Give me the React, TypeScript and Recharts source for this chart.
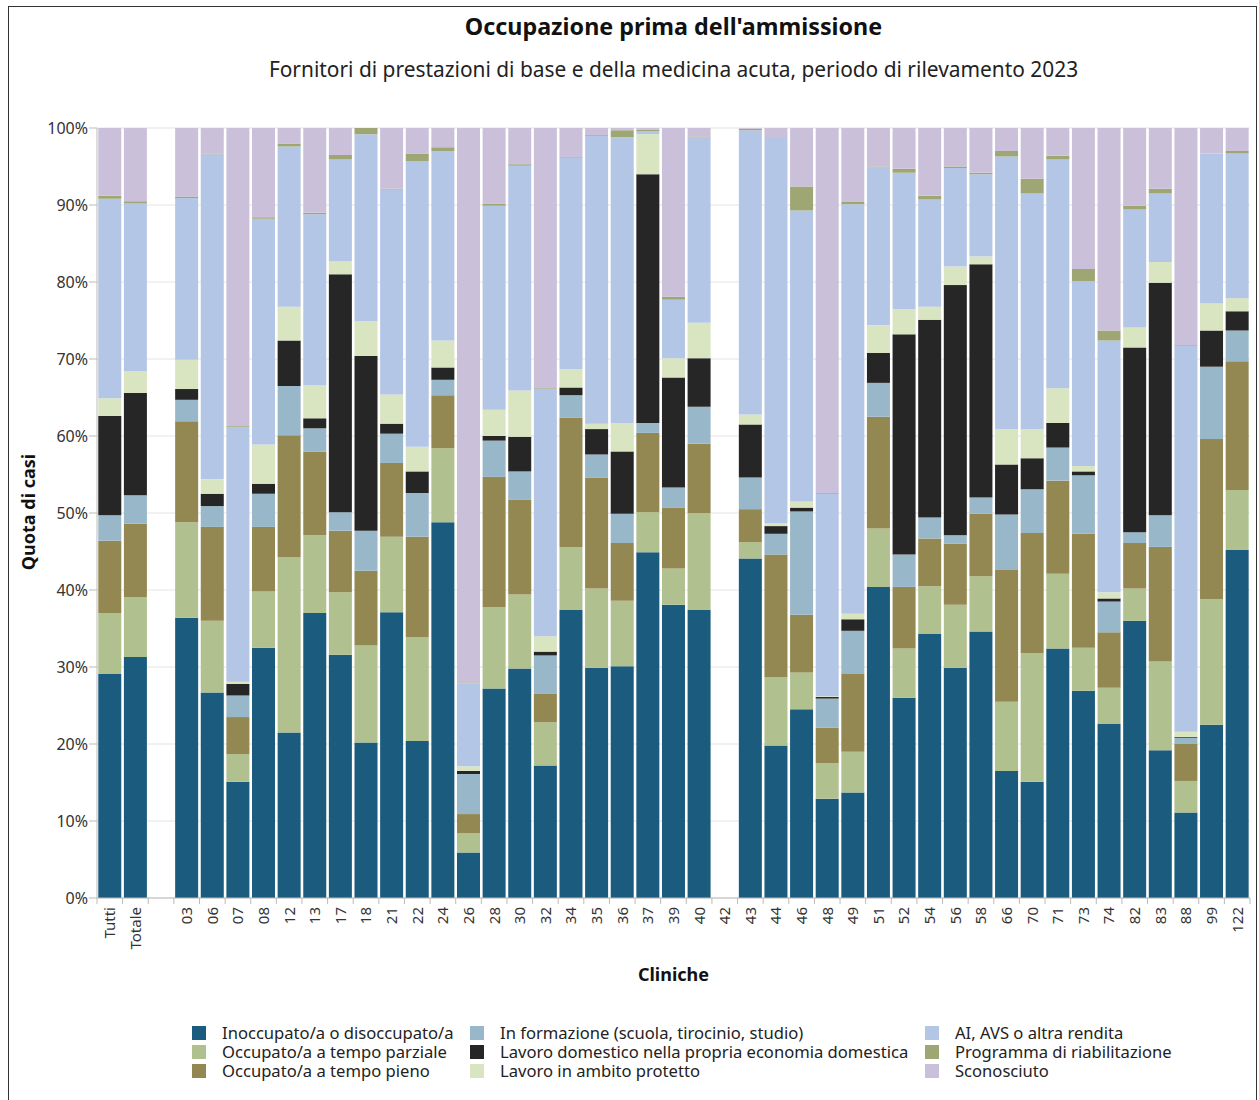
import { BarChart, Bar, XAxis, YAxis, CartesianGrid } from "recharts";

const cliniche = [
  "Tutti", "Totale", "",
  "03", "06", "07", "08", "12", "13", "17", "18", "21", "22", "24", "26", "28", "30", "32", "34", "35", "36", "37", "39", "40",
  "42",
  "43", "44", "46", "48", "49", "51", "52", "54", "56", "58", "66", "70", "71", "73", "74", "82", "83", "88", "99", "122",
];

// quote in %, stesso ordine delle cliniche (null = nessun dato)
const inoccupato = [29.1, 31.3, null, 36.4, 26.7, 15.1, 32.5, 21.5, 37.0, 31.6, 20.2, 37.1, 20.4, 48.8, 5.9, 27.2, 29.8, 17.2, 37.4, 29.9, 30.1, 44.9, 38.1, 37.4, null, 44.1, 19.8, 24.5, 12.9, 13.7, 40.4, 26.0, 34.3, 29.9, 34.6, 16.5, 15.1, 32.4, 26.9, 22.6, 36.0, 19.2, 11.1, 22.5, 45.2];
const parziale = [7.9, 7.8, null, 12.4, 9.3, 3.6, 7.3, 22.8, 10.1, 8.1, 12.6, 9.8, 13.5, 9.6, 2.5, 10.6, 9.6, 5.6, 8.2, 10.3, 8.5, 5.2, 4.7, 12.6, null, 2.1, 8.9, 4.8, 4.6, 5.3, 7.6, 6.4, 6.2, 8.2, 7.2, 9.0, 16.7, 9.7, 5.6, 4.7, 4.2, 11.5, 4.1, 16.3, 7.8];
const pieno = [9.4, 9.5, null, 13.1, 12.2, 4.8, 8.4, 15.8, 10.9, 8.0, 9.7, 9.6, 13.0, 6.9, 2.5, 16.9, 12.3, 3.7, 16.8, 14.4, 7.5, 10.3, 7.9, 9.0, null, 4.3, 15.9, 7.5, 4.6, 10.1, 14.5, 8.0, 6.2, 7.9, 8.1, 17.1, 15.6, 12.1, 14.8, 7.2, 5.9, 14.9, 4.8, 20.8, 16.7];
const formazione = [3.3, 3.7, null, 2.8, 2.7, 2.8, 4.3, 6.4, 3.0, 2.4, 5.2, 3.8, 5.7, 2.0, 5.2, 4.7, 3.7, 5.0, 2.9, 3.0, 3.8, 1.3, 2.6, 4.8, null, 4.1, 2.7, 13.4, 3.8, 5.6, 4.4, 4.2, 2.7, 1.1, 2.1, 7.2, 5.7, 4.3, 7.6, 4.0, 1.4, 4.1, 0.8, 9.4, 4.0];
const domestico = [12.9, 13.3, null, 1.4, 1.6, 1.5, 1.3, 5.9, 1.3, 30.9, 22.7, 1.3, 2.8, 1.6, 0.4, 0.6, 4.5, 0.5, 1.0, 3.3, 8.1, 32.3, 14.3, 6.3, null, 6.9, 1.0, 0.5, 0.2, 1.5, 3.9, 28.6, 25.7, 32.5, 30.3, 6.5, 4.0, 3.2, 0.5, 0.4, 24.0, 30.2, 0.1, 4.7, 2.5];
const protetto = [2.3, 2.8, null, 3.8, 1.9, 0.3, 5.1, 4.4, 4.3, 1.7, 4.5, 3.8, 3.2, 3.5, 0.6, 3.4, 6.0, 2.0, 2.4, 0.7, 3.7, 5.2, 2.5, 4.6, null, 1.3, 0.4, 0.8, 0.1, 0.7, 3.6, 3.3, 1.7, 2.4, 1.0, 4.6, 3.8, 4.5, 0.7, 0.8, 2.6, 2.7, 0.7, 3.5, 1.7];
const rendita = [25.9, 21.8, null, 21.0, 42.2, 33.1, 29.3, 20.8, 22.2, 13.2, 24.3, 26.6, 37.1, 24.6, 10.8, 26.5, 29.2, 32.1, 27.4, 37.4, 37.1, 0.4, 7.6, 24.1, null, 36.9, 50.0, 37.8, 26.3, 53.2, 20.5, 17.7, 13.9, 12.8, 10.7, 35.4, 30.6, 29.7, 24.0, 32.7, 15.3, 8.9, 50.1, 19.5, 18.8];
const riabilitazione = [0.4, 0.3, null, 0.2, 0.1, 0.1, 0.2, 0.4, 0.2, 0.6, 0.8, 0.1, 1.0, 0.5, 0.1, 0.3, 0.2, 0.1, 0.1, 0.1, 0.9, 0.2, 0.4, 0.1, null, 0.2, 0.0, 3.1, 0.1, 0.3, 0.1, 0.5, 0.5, 0.2, 0.2, 0.7, 1.9, 0.5, 1.6, 1.3, 0.5, 0.6, 0.1, 0.0, 0.3];
const sconosciuto = [8.8, 9.5, null, 8.9, 3.3, 38.7, 11.6, 2.0, 11.0, 3.5, 0.0, 7.9, 3.3, 2.5, 72.0, 9.8, 4.7, 33.8, 3.8, 0.9, 0.3, 0.2, 21.9, 1.1, null, 0.1, 1.3, 7.6, 47.4, 9.6, 5.1, 5.3, 8.8, 5.0, 5.8, 3.0, 6.6, 3.6, 18.3, 26.3, 10.1, 7.9, 28.2, 3.3, 3.0];

const yTicks = [0, 10, 20, 30, 40, 50, 60, 70, 80, 90, 100];

const serie = [
  { key: "inoccupato", name: "Inoccupato/a o disoccupato/a", color: "#1b5b7e", values: inoccupato },
  { key: "parziale", name: "Occupato/a a tempo parziale", color: "#b0c18f", values: parziale },
  { key: "pieno", name: "Occupato/a a tempo pieno", color: "#938852", values: pieno },
  { key: "formazione", name: "In formazione (scuola, tirocinio, studio)", color: "#98b7c9", values: formazione },
  { key: "domestico", name: "Lavoro domestico nella propria economia domestica", color: "#262626", values: domestico },
  { key: "protetto", name: "Lavoro in ambito protetto", color: "#d9e4c1", values: protetto },
  { key: "rendita", name: "AI, AVS o altra rendita", color: "#b4c6e6", values: rendita },
  { key: "riabilitazione", name: "Programma di riabilitazione", color: "#9ea673", values: riabilitazione },
  { key: "sconosciuto", name: "Sconosciuto", color: "#cbc0da", values: sconosciuto },
];

const data = cliniche.map((c, i) => {
  const row: Record<string, string | number | null> = { clinica: c };
  serie.forEach((s) => {
    row[s.key] = s.values[i];
  });
  return row;
});

const FONT = "'Noto Sans', 'Open Sans', sans-serif";

// etichetta ruotata + trattino al bordo della banda (come nell'originale)
function XTick(props: any) {
  const { x, y, payload, index } = props;
  const half = payload.offset ?? 12.8;
  const last = index === cliniche.length - 1;
  return (
    <g>
      <line x1={x - half} x2={x - half} y1={y} y2={y + 6} stroke="#bbb" />
      {last && <line x1={x + half} x2={x + half} y1={y} y2={y + 6} stroke="#bbb" />}
      <text
        x={x}
        y={y + 9}
        transform={`rotate(-90, ${x}, ${y + 9})`}
        textAnchor="end"
        dy="0.36em"
        fontFamily={FONT}
        fontSize={15}
        fill="#333"
      >
        {payload.value}
      </text>
    </g>
  );
}

function LegendBox() {
  const cols = [serie.slice(0, 3), serie.slice(3, 6), serie.slice(6, 9)];
  const colX = [183, 461, 916];
  return (
    <div style={{ position: "absolute", left: 0, top: 1016, width: 1247, height: 60, fontFamily: FONT, fontSize: 16.6, color: "#222" }}>
      {cols.map((col, ci) =>
        col.map((s, ri) => (
          <div
            key={s.key}
            style={{ position: "absolute", left: colX[ci], top: ri * 19, height: 19, lineHeight: "19px", display: "flex", alignItems: "center", whiteSpace: "nowrap" }}
          >
            <span style={{ width: 14, height: 14, background: s.color, display: "inline-block", marginRight: 16 }} />
            <span>{s.name}</span>
          </div>
        ))
      )}
    </div>
  );
}

export default function App() {
  return (
    <div
      style={{
        position: "absolute",
        left: 8,
        top: 6,
        width: 1247,
        height: 1100,
        border: "1px solid #333",
        background: "#fff",
        fontFamily: FONT,
      }}
    >
      <div style={{ position: "absolute", left: 88, width: 1153, top: 3, textAlign: "center", fontSize: 23.3, fontWeight: 700, color: "#111" }}>
        Occupazione prima dell'ammissione
      </div>
      <div style={{ position: "absolute", left: 88, width: 1153, top: 48, textAlign: "center", fontSize: 20.9, color: "#222" }}>
        Fornitori di prestazioni di base e della medicina acuta, periodo di rilevamento 2023
      </div>
      <div
        style={{
          position: "absolute",
          left: 19,
          top: 505,
          transform: "translate(-50%, -50%) rotate(-90deg)",
          fontSize: 18,
          fontWeight: 700,
          color: "#111",
          whiteSpace: "nowrap",
        }}
      >
        Quota di casi
      </div>
      <div style={{ position: "absolute", left: 88, width: 1153, top: 955, textAlign: "center", fontSize: 18, fontWeight: 700, color: "#111" }}>
        Cliniche
      </div>
      <BarChart
        width={1247}
        height={1010}
        data={data}
        margin={{ top: 121, right: 6, bottom: 59, left: 0 }}
        barCategoryGap="5%"
      >
        <CartesianGrid vertical={false} stroke="#e4e4e4" />
        <XAxis
          dataKey="clinica"
          interval={0}
          height={60}
          tick={<XTick />}
          tickLine={false}
          tickSize={0}
          tickMargin={0}
          axisLine={{ stroke: "#bbb" }}
        />
        <YAxis
          width={88}
          domain={[0, 100]}
          ticks={yTicks}
          allowDataOverflow
          tickFormatter={(v) => `${v}%`}
          tick={{ fontSize: 16, fill: "#333", fontFamily: FONT }}
          tickLine={{ stroke: "#bbb" }}
          tickSize={8}
          tickMargin={1}
          axisLine={{ stroke: "#bbb" }}
        />
        {serie.map((s) => (
          <Bar
            key={s.key}
            dataKey={s.key}
            name={s.name}
            stackId="a"
            fill={s.color}
            isAnimationActive={false}
          />
        ))}
      </BarChart>
      <LegendBox />
    </div>
  );
}
